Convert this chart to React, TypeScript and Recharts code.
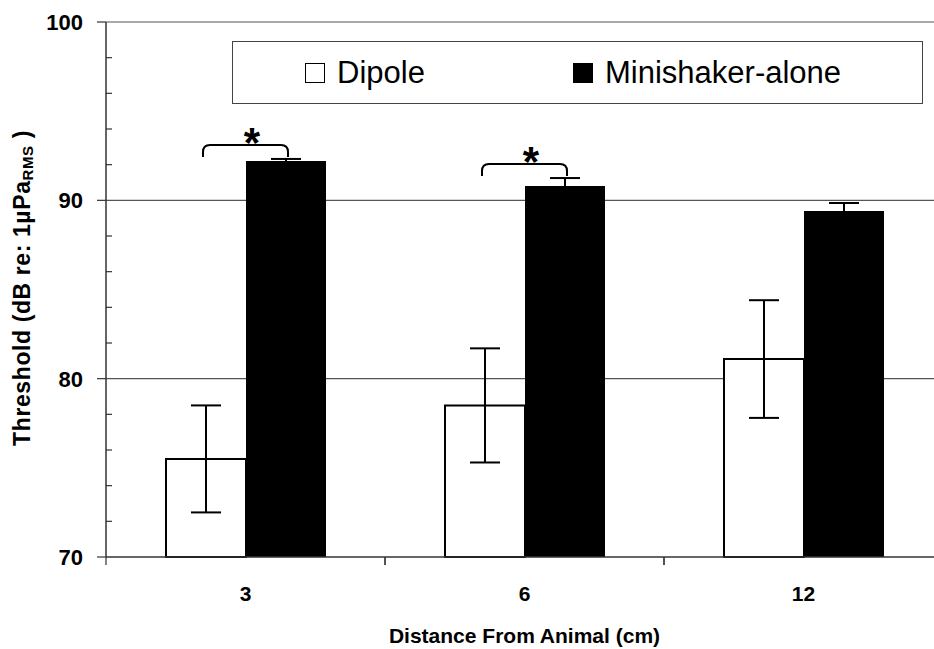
import { BarChart, Bar, XAxis, YAxis, CartesianGrid, ErrorBar, Legend } from "recharts";

const distances = ["3", "6", "12"];
const dipole = [75.5, 78.5, 81.1];
const dipoleErr = [3.0, 3.2, 3.3];
const minishaker = [92.2, 90.8, 89.4];
const minishakerErr = [0.12, 0.45, 0.45];
const significant = [true, true, false];
const yTicks = [70, 72, 74, 76, 78, 80, 82, 84, 86, 88, 90, 92, 94, 96, 98, 100];
const gridLevels = [80, 90, 100];

const series = [
  { key: "dipole", name: "Dipole", fill: "#ffffff" },
  { key: "minishaker", name: "Minishaker-alone", fill: "#000000" },
];

const data = distances.map((d, i) => ({
  distance: d,
  dipole: dipole[i],
  dipoleErr: dipoleErr[i],
  minishaker: minishaker[i],
  minishakerErr: minishakerErr[i],
}));

const W = 950;
const H = 649;
const M = { top: 22, right: 7, bottom: 0, left: 0 };
const Y_W = 106;
const X_H = 92;
const BAND = (W - M.left - M.right - Y_W) / distances.length;
const FONT = "'Liberation Sans', Arial, sans-serif";

const YTick = (props: any) => {
  const { x, y, payload } = props;
  const v = payload.value;
  if (v % 10 === 0) {
    return (
      <g>
        <line x1={x - 9} x2={x} y1={y} y2={y} stroke="#333" strokeWidth={1.2} />
        <text x={x - 23} y={y + 8} textAnchor="end" fontSize={22} fontWeight="bold" fontFamily={FONT} fill="#000">
          {v}
        </text>
      </g>
    );
  }
  return <line x1={x} x2={x + 6} y1={y} y2={y} stroke="#333" strokeWidth={1.2} />;
};

const XTick = (props: any) => {
  const { x, y, payload } = props;
  return (
    <g>
      <line x1={x - BAND / 2} x2={x - BAND / 2} y1={y} y2={y + 8} stroke="#333" strokeWidth={1.2} />
      <line x1={x + BAND / 2} x2={x + BAND / 2} y1={y} y2={y + 8} stroke="#333" strokeWidth={1.2} />
      <text x={x} y={y + 44} textAnchor="middle" fontSize={21} fontWeight="bold" fontFamily={FONT} fill="#000">
        {payload.value}
      </text>
    </g>
  );
};

const Bracket = (props: any) => {
  const { x, y, width, height, value, index } = props;
  if (!significant[index]) return null;
  const px = height / (value - 70);
  const errTop = y - minishakerErr[index] * px;
  const top = errTop - 14;
  const left = x - width / 2 - 3;
  const right = x + width / 2 + 2;
  const r = 7;
  const d = `M${left},${top + 12} L${left},${top + r} Q${left},${top} ${left + r},${top} L${right - r},${top} Q${right},${top} ${right},${top + r} L${right},${top + 12}`;
  return (
    <g>
      <path d={d} fill="none" stroke="#000" strokeWidth={2} />
      <text x={x + 6} y={top + 12} textAnchor="middle" fontSize={42} fontWeight="bold" fontFamily={FONT} fill="#000">
        *
      </text>
    </g>
  );
};

const YTitle = () => {
  const cy = 288;
  const cx = 30;
  return (
    <text
      x={cx}
      y={cy}
      transform={`rotate(-90, ${cx}, ${cy})`}
      textAnchor="middle"
      fontSize={23}
      fontWeight="bold"
      fontFamily={FONT}
      letterSpacing={0.6}
      fill="#000"
    >
      Threshold (dB re: 1µPa
      <tspan fontSize={15} dy={3}>RMS</tspan>
      <tspan dy={-3}> )</tspan>
    </text>
  );
};

const LegendBox = () => (
  <div
    style={{
      width: 689,
      height: 61,
      border: "1px solid #444",
      background: "#fff",
      position: "relative",
      fontFamily: FONT,
    }}
  >
    {series.map((s, i) => (
      <div
        key={s.key}
        style={{
          position: "absolute",
          left: i === 0 ? 72 : 340,
          top: 0,
          height: 61,
          display: "flex",
          alignItems: "center",
        }}
      >
        <div style={{ width: 18, height: 18, border: "1.5px solid #000", background: s.fill, marginRight: 12 }} />
        <span style={{ fontSize: 31, color: "#000", lineHeight: "61px" }}>{s.name}</span>
      </div>
    ))}
  </div>
);

export default function App() {
  return (
    <div style={{ position: "fixed", left: 0, top: 0, width: 934, height: 649, overflow: "hidden", background: "#fff" }}>
      <BarChart width={W} height={H} data={data} margin={M} barSize={80} barGap={0}>
        <CartesianGrid vertical={false} horizontalValues={gridLevels} stroke="#555" strokeWidth={1.2} />
        <XAxis
          dataKey="distance"
          height={X_H}
          tickSize={0}
          tickMargin={0}
          tickLine={false}
          axisLine={{ stroke: "#333", strokeWidth: 1.5 }}
          tick={<XTick />}
          interval={0}
          label={{
            value: "Distance From Animal (cm)",
            position: "insideBottom",
            offset: 6,
            fontSize: 21,
            fontWeight: "bold",
            fontFamily: FONT,
            fill: "#000",
          }}
        />
        <YAxis
          width={Y_W}
          domain={[70, 100]}
          ticks={yTicks}
          interval={0}
          tickSize={0}
          tickMargin={0}
          tickLine={false}
          axisLine={{ stroke: "#333", strokeWidth: 1.5 }}
          tick={<YTick />}
          label={<YTitle />}
        />
        <Legend
          layout="horizontal"
          verticalAlign="middle"
          align="center"
          content={<LegendBox />}
          wrapperStyle={{ position: "absolute", left: 232, top: 41, width: 691, height: 63 }}
        />
        <Bar dataKey="dipole" name="Dipole" fill="#fff" stroke="#000" strokeWidth={2} isAnimationActive={false}>
          <ErrorBar dataKey="dipoleErr" width={15} stroke="#000" strokeWidth={2} direction="y" />
        </Bar>
        <Bar
          dataKey="minishaker"
          name="Minishaker-alone"
          fill="#000"
          isAnimationActive={false}
          label={<Bracket />}
        >
          <ErrorBar dataKey="minishakerErr" width={15} stroke="#000" strokeWidth={2} direction="y" />
        </Bar>
      </BarChart>
    </div>
  );
}
